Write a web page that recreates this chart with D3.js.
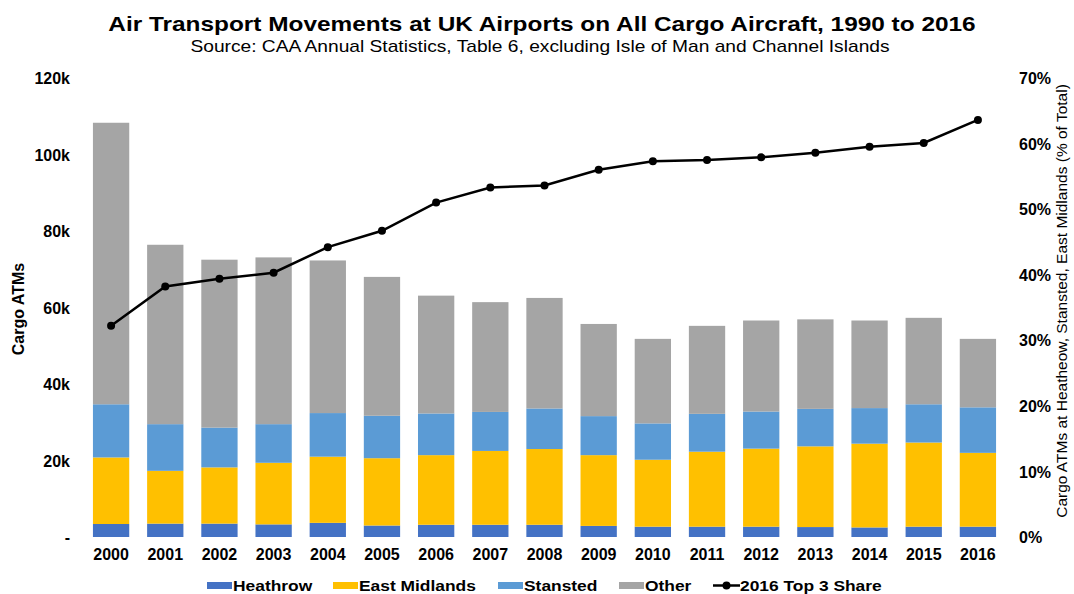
<!DOCTYPE html>
<html>
<head>
<meta charset="utf-8">
<script src="https://cdn.jsdelivr.net/npm/d3@7"></script>
<style>
  body { margin: 0; background: #fff; }
  text { font-family: "Liberation Sans", Arial, sans-serif; fill: #000; }
</style>
</head>
<body>
<svg id="chart" width="1074" height="594"></svg>
<script>
// dados (milhares de movimentos)
var years = ["2000","2001","2002","2003","2004","2005","2006","2007","2008","2009","2010","2011","2012","2013","2014","2015","2016"];
var heathrow = [3.4, 3.5, 3.5, 3.3, 3.7, 3.0, 3.2, 3.2, 3.2, 2.9, 2.7, 2.7, 2.7, 2.6, 2.5, 2.7, 2.7];
var eastMidlands = [17.4, 13.8, 14.7, 16.1, 17.3, 17.6, 18.2, 19.3, 19.8, 18.5, 17.5, 19.6, 20.4, 21.1, 21.9, 22.0, 19.3];
var stansted = [13.9, 12.2, 10.4, 10.1, 11.4, 11.1, 10.9, 10.2, 10.6, 10.2, 9.5, 9.9, 9.7, 9.8, 9.3, 10.0, 11.9];
var other = [73.6, 46.9, 43.9, 43.6, 39.9, 36.3, 30.8, 28.7, 28.9, 24.1, 22.1, 23.0, 23.8, 23.4, 22.9, 22.6, 17.9];
// participação das 3 maiores (%)
var top3Share = [32.2, 38.2, 39.4, 40.3, 44.2, 46.7, 51.0, 53.3, 53.6, 56.0, 57.3, 57.5, 57.9, 58.6, 59.5, 60.1, 63.6];

var leftTicks = [0, 20000, 40000, 60000, 80000, 100000, 120000];
var rightTicks = [0, 0.1, 0.2, 0.3, 0.4, 0.5, 0.6, 0.7];

var seriesKeys = ["Heathrow", "East Midlands", "Stansted", "Other"];
var colors = { "Heathrow": "#4472c4", "East Midlands": "#ffc000", "Stansted": "#5b9bd5", "Other": "#a5a5a5" };

// tabela para o d3.stack
var rows = years.map(function (y, i) {
  return { year: y, "Heathrow": heathrow[i] * 1000, "East Midlands": eastMidlands[i] * 1000,
           "Stansted": stansted[i] * 1000, "Other": other[i] * 1000 };
});

var svg = d3.select("#chart");
var plotLeft = 84, plotRight = 1005, plotTop = 78, plotBottom = 537;
// o original está esticado na horizontal
var stretch = 1.2;

var x = d3.scaleBand().domain(years).range([plotLeft, plotRight]).paddingInner(0.33).paddingOuter(0.165);
var y = d3.scaleLinear().domain([0, 120000]).range([plotBottom, plotTop]);
var y2 = d3.scaleLinear().domain([0, 0.7]).range([plotBottom, plotTop]);

// barras empilhadas
var stacked = d3.stack().keys(seriesKeys)(rows);
svg.append("g").selectAll("g")
  .data(stacked)
  .enter()
  .append("g")
  .attr("fill", function (d) { return colors[d.key]; })
  .selectAll("rect")
  .data(function (d) { return d; })
  .enter()
  .append("rect")
  .attr("x", function (d) { return x(d.data.year); })
  .attr("y", function (d) { return y(d[1]); })
  .attr("width", x.bandwidth())
  .attr("height", function (d) { return y(d[0]) - y(d[1]); });

function styleTicks(g) {
  g.select(".domain").remove();
  g.selectAll("text").attr("font-size", 16).attr("font-weight", "bold")
    .attr("font-family", "Liberation Sans, Arial, sans-serif").attr("fill", "#000");
}

// eixo esquerdo
var yAxis = d3.axisLeft(y).tickValues(leftTicks).tickSize(0).tickPadding(0)
  .tickFormat(function (d) { return d === 0 ? "-" : (d / 1000) + "k"; });
var gl = svg.append("g").attr("transform", "translate(70,0)").call(yAxis);
styleTicks(gl);
gl.selectAll("text").attr("dy", "0.35em");

// eixo direito
var y2Axis = d3.axisRight(y2).tickValues(rightTicks).tickSize(0).tickPadding(0)
  .tickFormat(d3.format(".0%"));
var gr = svg.append("g").attr("transform", "translate(1019,0)").call(y2Axis);
styleTicks(gr);
gr.selectAll("text").attr("dy", "0.35em");

// eixo x
var xAxis = d3.axisBottom(x).tickSize(0).tickPadding(0);
var gx = svg.append("g").attr("transform", "translate(0,549)").call(xAxis);
styleTicks(gx);
gx.selectAll("text").attr("dy", "0.71em");

// linha de participação
var line = d3.line()
  .x(function (d, i) { return x(years[i]) + x.bandwidth() / 2; })
  .y(function (d) { return y2(d / 100); });
svg.append("path").datum(top3Share)
  .attr("d", line).attr("fill", "none").attr("stroke", "#000").attr("stroke-width", 2.5);
svg.selectAll("circle.pt")
  .data(top3Share)
  .enter()
  .append("circle")
  .attr("class", "pt")
  .attr("cx", function (d, i) { return x(years[i]) + x.bandwidth() / 2; })
  .attr("cy", function (d) { return y2(d / 100); })
  .attr("r", 4)
  .attr("fill", "#000");

// texto esticado na horizontal
function wideText(px, py, size, bold, anchor, str, sx) {
  return svg.append("text")
    .attr("transform", "translate(" + px + "," + py + ") scale(" + (sx || stretch) + ",1)")
    .attr("text-anchor", anchor)
    .attr("font-size", size)
    .attr("font-weight", bold ? "bold" : "normal")
    .text(str);
}

// títulos
wideText(542, 31, 20, true, "middle", "Air Transport Movements at UK Airports on All Cargo Aircraft, 1990 to 2016", 1.22);
wideText(540, 52, 16, false, "middle", "Source: CAA Annual Statistics, Table 6, excluding Isle of Man and Channel Islands");

svg.append("text").attr("transform", "translate(24,309) rotate(-90)").attr("text-anchor", "middle")
  .attr("font-size", 16).attr("font-weight", "bold").text("Cargo ATMs");
svg.append("text").attr("transform", "translate(1067,301) rotate(-90)").attr("text-anchor", "middle")
  .attr("font-size", 15.5).text("Cargo ATMs at Heatheow, Stansted, East Midlands (% of Total)");

// legenda
var legendX = [207, 333, 498, 619];
seriesKeys.forEach(function (k, i) {
  svg.append("rect").attr("x", legendX[i]).attr("y", 582).attr("width", 25).attr("height", 7).attr("fill", colors[k]);
  wideText(legendX[i] + 26, 591, 14.5, true, "start", k);
});
svg.append("line").attr("x1", 713).attr("x2", 740).attr("y1", 585.5).attr("y2", 585.5)
  .attr("stroke", "#000").attr("stroke-width", 2.5);
svg.append("circle").attr("cx", 726.5).attr("cy", 585.5).attr("r", 4).attr("fill", "#000");
wideText(740, 591, 14.5, true, "start", "2016 Top 3 Share");
</script>
</body>
</html>
